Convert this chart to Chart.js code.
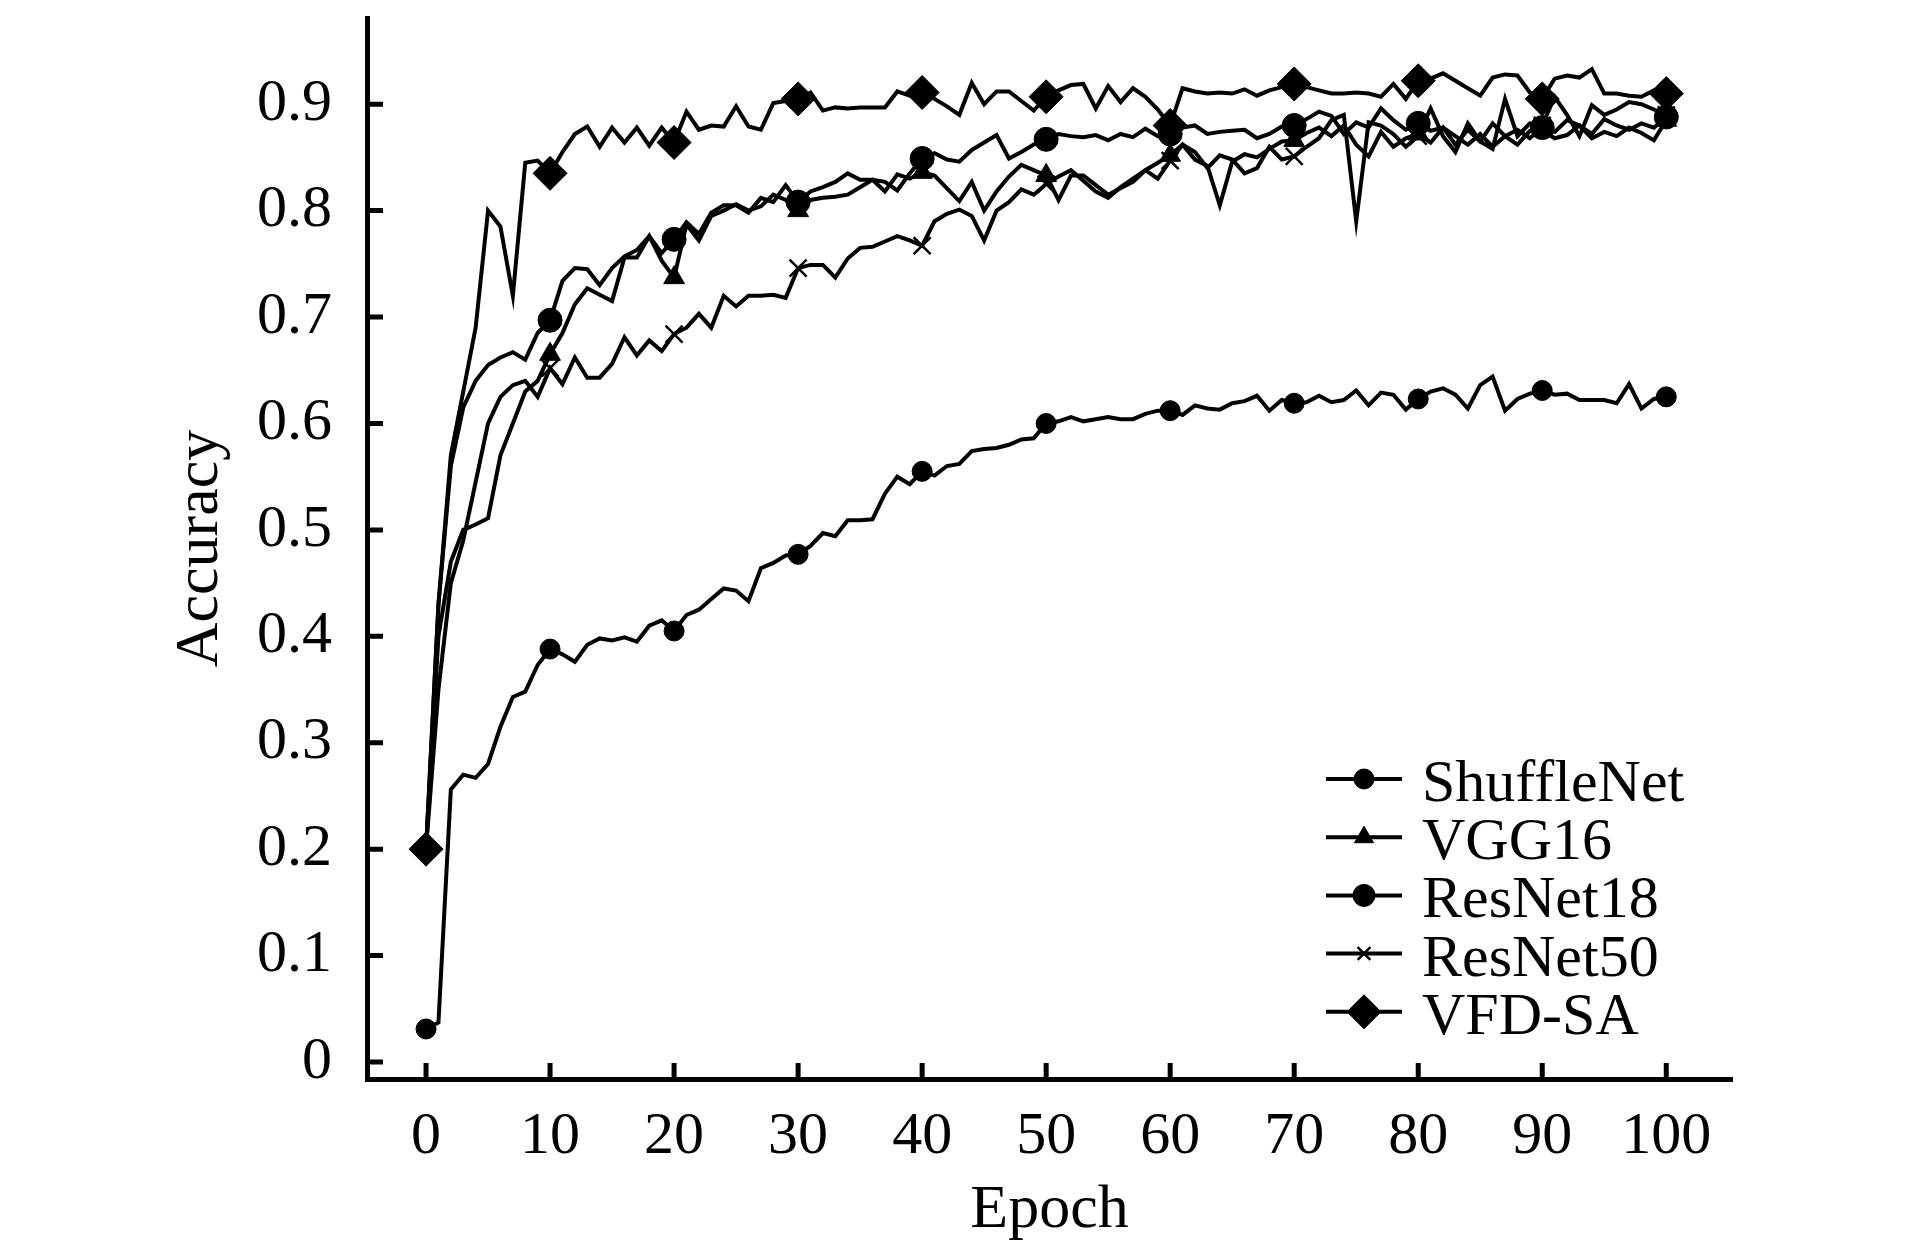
<!DOCTYPE html>
<html>
<head>
<meta charset="utf-8">
<title>Accuracy vs Epoch</title>
<script src="https://cdn.jsdelivr.net/npm/chart.js@4.4.1/dist/chart.umd.min.js"></script>
<style>
  html, body { margin: 0; padding: 0; background: #fff; }
  #wrap { width: 1913px; height: 1252px; }
</style>
</head>
<body>
<div id="wrap"><canvas id="chart" width="1913" height="1252"></canvas></div>
<script>
// epochs 0..100
const epochs = Array.from({ length: 101 }, (_, i) => i);

const shuffleNet = [
  0.031, 0.037, 0.256, 0.270, 0.267, 0.280, 0.315, 0.343, 0.348, 0.373,
  0.388, 0.383, 0.376, 0.392, 0.398, 0.396, 0.399, 0.395, 0.410, 0.415,
  0.405, 0.420, 0.425, 0.435, 0.445, 0.443, 0.433, 0.464, 0.469, 0.476,
  0.477, 0.485, 0.497, 0.494, 0.509, 0.509, 0.510, 0.534, 0.550, 0.543,
  0.555, 0.551, 0.560, 0.562, 0.574, 0.576, 0.577, 0.580, 0.585, 0.586,
  0.600, 0.602, 0.606, 0.602, 0.604, 0.606, 0.604, 0.604, 0.609, 0.612,
  0.612, 0.608, 0.617, 0.614, 0.613, 0.619, 0.621, 0.626, 0.612, 0.622,
  0.619, 0.620, 0.626, 0.620, 0.622, 0.631, 0.617, 0.629, 0.627, 0.613,
  0.623, 0.630, 0.633, 0.627, 0.614, 0.636, 0.644, 0.612, 0.623, 0.628,
  0.631, 0.627, 0.628, 0.622, 0.622, 0.622, 0.619, 0.637, 0.614, 0.623,
  0.625
];

const vgg16 = [
  0.200, 0.400, 0.470, 0.500, 0.505, 0.511, 0.570, 0.600, 0.630, 0.640,
  0.665, 0.685, 0.712, 0.727, 0.721, 0.715, 0.756, 0.756, 0.776, 0.753,
  0.737, 0.787, 0.772, 0.795, 0.800, 0.806, 0.800, 0.804, 0.815, 0.810,
  0.800, 0.810, 0.812, 0.813, 0.815, 0.822, 0.829, 0.818, 0.834, 0.830,
  0.836, 0.833, 0.821, 0.809, 0.827, 0.800, 0.818, 0.832, 0.843, 0.838,
  0.833, 0.810, 0.833, 0.833, 0.824, 0.815, 0.821, 0.827, 0.838, 0.845,
  0.852, 0.862, 0.848, 0.842, 0.805, 0.846, 0.853, 0.850, 0.858, 0.865,
  0.866, 0.873, 0.878, 0.870, 0.880, 0.862, 0.851, 0.874, 0.860, 0.868,
  0.872, 0.864, 0.878, 0.862, 0.876, 0.865, 0.882, 0.870, 0.862, 0.875,
  0.876, 0.868, 0.871, 0.880, 0.868, 0.874, 0.870, 0.878, 0.873, 0.866,
  0.885
];

const resNet18 = [
  0.200, 0.430, 0.560, 0.615, 0.640, 0.655, 0.662, 0.667, 0.660, 0.685,
  0.697, 0.734, 0.746, 0.745, 0.730, 0.746, 0.757, 0.763, 0.776, 0.760,
  0.773, 0.789, 0.778, 0.798, 0.805, 0.805, 0.798, 0.812, 0.808, 0.824,
  0.808, 0.818, 0.822, 0.827, 0.835, 0.829, 0.829, 0.827, 0.819, 0.835,
  0.849, 0.854, 0.848, 0.846, 0.857, 0.864, 0.871, 0.849, 0.855, 0.862,
  0.867, 0.872, 0.870, 0.869, 0.871, 0.866, 0.872, 0.869, 0.877, 0.870,
  0.872, 0.878, 0.880, 0.872, 0.874, 0.875, 0.876, 0.868, 0.872, 0.879,
  0.880, 0.886, 0.893, 0.889, 0.872, 0.883, 0.878, 0.896, 0.885, 0.876,
  0.882, 0.875, 0.878, 0.870, 0.862, 0.872, 0.860, 0.870, 0.876, 0.868,
  0.878, 0.874, 0.885, 0.880, 0.872, 0.886, 0.880, 0.876, 0.882, 0.878,
  0.888
];

const resNet50 = [
  0.200, 0.350, 0.450, 0.490, 0.545, 0.600, 0.625, 0.636, 0.640, 0.625,
  0.652, 0.637, 0.662, 0.643, 0.643, 0.656, 0.681, 0.664, 0.678, 0.668,
  0.684, 0.690, 0.703, 0.690, 0.720, 0.710, 0.720, 0.720, 0.721, 0.718,
  0.746, 0.749, 0.749, 0.737, 0.755, 0.765, 0.766, 0.771, 0.776, 0.772,
  0.767, 0.790, 0.797, 0.801, 0.795, 0.772, 0.800, 0.808, 0.820, 0.815,
  0.825, 0.832, 0.838, 0.828, 0.818, 0.812, 0.822, 0.830, 0.838, 0.830,
  0.847, 0.862, 0.855, 0.840, 0.852, 0.848, 0.835, 0.840, 0.860, 0.848,
  0.851, 0.860, 0.868, 0.885, 0.890, 0.790, 0.883, 0.880, 0.872, 0.860,
  0.870, 0.896, 0.870, 0.855, 0.882, 0.865, 0.858, 0.905, 0.870, 0.882,
  0.880, 0.907, 0.890, 0.870, 0.899, 0.890, 0.895, 0.902, 0.900, 0.895,
  0.890
];

const vfdSa = [
  0.200, 0.430, 0.570, 0.630, 0.690, 0.800, 0.785, 0.720, 0.845, 0.847,
  0.835, 0.855, 0.872, 0.879, 0.860, 0.878, 0.864, 0.878, 0.861, 0.878,
  0.864, 0.893, 0.876, 0.880, 0.879, 0.898, 0.879, 0.876, 0.901, 0.903,
  0.905, 0.911, 0.894, 0.897, 0.896, 0.897, 0.897, 0.897, 0.912, 0.908,
  0.911, 0.905, 0.898, 0.890, 0.920, 0.900, 0.912, 0.912, 0.903, 0.894,
  0.907, 0.913, 0.918, 0.919, 0.896, 0.917, 0.902, 0.915, 0.907, 0.895,
  0.880, 0.915, 0.912, 0.910, 0.911, 0.910, 0.914, 0.908, 0.913, 0.916,
  0.919, 0.916, 0.913, 0.910, 0.910, 0.911, 0.910, 0.907, 0.919, 0.905,
  0.922, 0.924, 0.929, 0.922, 0.915, 0.908, 0.925, 0.928, 0.927, 0.911,
  0.905, 0.924, 0.927, 0.925, 0.933, 0.910, 0.910, 0.908, 0.907, 0.913,
  0.910
];

const xTicks = [0, 10, 20, 30, 40, 50, 60, 70, 80, 90, 100];
const yTicks = [0, 0.1, 0.2, 0.3, 0.4, 0.5, 0.6, 0.7, 0.8, 0.9];
const yTickLabels = ['0', '0.1', '0.2', '0.3', '0.4', '0.5', '0.6', '0.7', '0.8', '0.9'];

const FONT = '"Liberation Serif", "DejaVu Serif", serif';

// marker only every 10 epochs
const every10 = r => ctx => (ctx.dataIndex % 10 === 0 ? r : 0);

function makeSet(label, values, style, r, legendR, bw) {
    return {
        label: label,
        data: epochs.map((e, i) => ({ x: e, y: values[i] })),
        borderColor: '#000',
        borderWidth: 4,
        tension: 0,
        pointStyle: style,
        pointRadius: every10(r),
        pointHoverRadius: every10(r),
        pointBackgroundColor: '#000',
        pointBorderColor: '#000',
        pointBorderWidth: bw,
        legendRadius: legendR,
    };
}

// ticks on the inside of the axes
const inwardTicks = {
    id: 'inwardTicks',
    afterDraw(chart) {
        const { ctx, chartArea, scales } = chart;
        ctx.save();
        ctx.strokeStyle = '#000';
        ctx.lineWidth = 5;
        ctx.beginPath();
        xTicks.forEach(v => {
            const px = scales.x.getPixelForValue(v);
            ctx.moveTo(px, chartArea.bottom);
            ctx.lineTo(px, chartArea.bottom - 16);
        });
        yTicks.forEach(v => {
            const py = scales.y.getPixelForValue(v);
            ctx.moveTo(chartArea.left, py);
            ctx.lineTo(chartArea.left + 16, py);
        });
        ctx.stroke();
        ctx.restore();
    }
};

// legend inside the plot, lower right
const insideLegend = {
    id: 'insideLegend',
    afterDraw(chart) {
        const ctx = chart.ctx;
        const x0 = 1326, x1 = 1402, textX = 1422, y0 = 779, gap = 58.2;
        ctx.save();
        chart.data.datasets.forEach((ds, i) => {
            const y = y0 + i * gap;
            ctx.strokeStyle = '#000';
            ctx.lineWidth = 4;
            ctx.beginPath();
            ctx.moveTo(x0, y);
            ctx.lineTo(x1, y);
            ctx.stroke();
            ctx.fillStyle = '#000';
            ctx.lineWidth = ds.pointBorderWidth;
            Chart.helpers.drawPoint(ctx, {
                pointStyle: ds.pointStyle,
                radius: ds.legendRadius,
                borderWidth: ds.pointBorderWidth,
                rotation: 0
            }, (x0 + x1) / 2, y);
            ctx.font = '60px ' + FONT;
            ctx.textBaseline = 'alphabetic';
            ctx.textAlign = 'left';
            ctx.fillText(ds.label, textX, y + 22);
        });
        ctx.restore();
    }
};

const ctx = document.getElementById('chart').getContext('2d');
new Chart(ctx, {
    type: 'line',
    data: {
        datasets: [
            makeSet('ShuffleNet', shuffleNet, 'circle', 10, 10, 1),
            makeSet('VGG16', vgg16, 'triangle', 12, 11, 1),
            makeSet('ResNet18', resNet18, 'circle', 12, 11, 1),
            makeSet('ResNet50', resNet50, 'crossRot', 12, 9, 2.5),
            makeSet('VFD-SA', vfdSa, 'rectRot', 17, 17, 1),
        ]
    },
    options: {
        responsive: false,
        animation: false,
        devicePixelRatio: 1,
        layout: { padding: { top: 12, right: 181, left: 0, bottom: 0 } },
        plugins: {
            legend: { display: false },
            tooltip: { enabled: false }
        },
        scales: {
            x: {
                type: 'linear',
                min: -4.76,
                max: 105.3,
                afterBuildTicks: s => { s.ticks = xTicks.map(v => ({ value: v })); },
                afterFit: s => { s.height = 173; s.paddingLeft = 0; s.paddingRight = 0; },
                grid: { drawOnChartArea: false, drawTicks: false },
                border: { display: true, color: '#000', width: 5 },
                ticks: {
                    color: '#000',
                    padding: 22,
                    maxRotation: 0,
                    font: { family: FONT, size: 60 }
                },
                title: {
                    display: true,
                    text: 'Epoch',
                    color: '#000',
                    padding: { top: 0, bottom: 4 },
                    font: { family: FONT, size: 62 }
                }
            },
            y: {
                min: -0.016,
                max: 0.981,
                afterBuildTicks: s => { s.ticks = yTicks.map(v => ({ value: v })); },
                afterFit: s => { s.width = 367; s.paddingTop = 0; s.paddingBottom = 0; },
                grid: { drawOnChartArea: false, drawTicks: false },
                border: { display: true, color: '#000', width: 5 },
                ticks: {
                    color: '#000',
                    padding: 35,
                    font: { family: FONT, size: 60 },
                    callback: (v, i) => yTickLabels[i]
                },
                title: {
                    display: true,
                    text: 'Accuracy',
                    color: '#000',
                    padding: { top: 164, bottom: 0 },
                    font: { family: FONT, size: 62 }
                }
            }
        }
    },
    plugins: [inwardTicks, insideLegend]
});
</script>
</body>
</html>
